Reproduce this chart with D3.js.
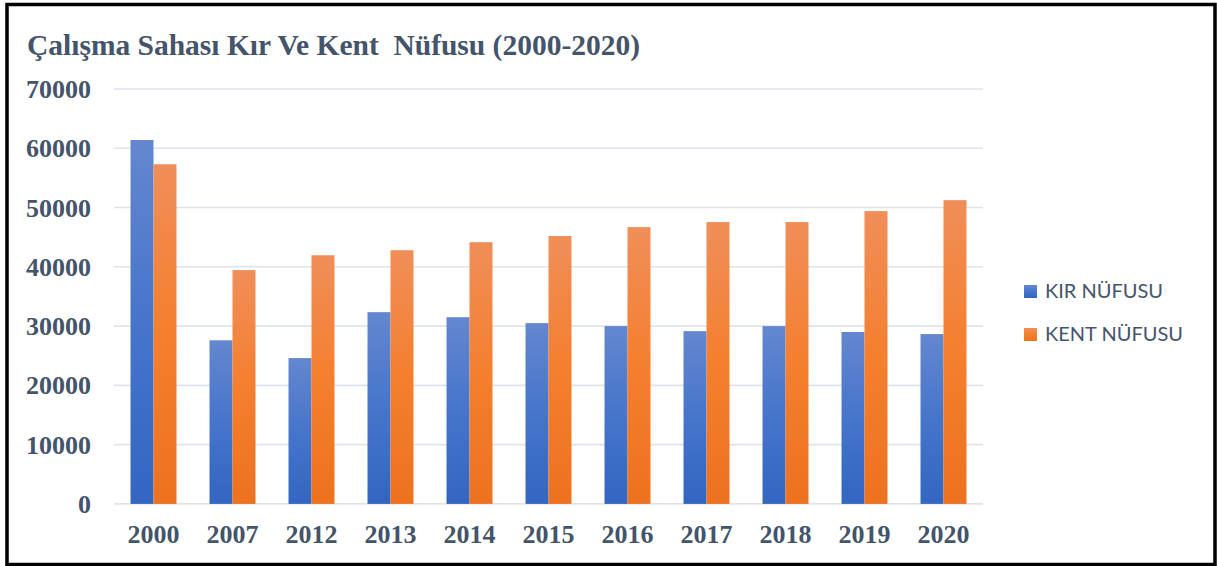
<!DOCTYPE html>
<html>
<head>
<meta charset="utf-8">
<script src="https://cdn.jsdelivr.net/npm/d3@7"></script>
<style>
  body { margin: 0; background: #fff; }
  svg { display: block; }
</style>
</head>
<body>
<script>
'use strict';

// chart data
const years = ['2000', '2007', '2012', '2013', '2014', '2015', '2016', '2017', '2018', '2019', '2020'];
const kirNufusu = [61400, 27600, 24600, 32350, 31500, 30500, 30000, 29150, 30000, 29000, 28650];
const kentNufusu = [57300, 39450, 41950, 42800, 44150, 45200, 46700, 47550, 47550, 49400, 51250];
const seriesNames = ['KIR NÜFUSU', 'KENT NÜFUSU'];
const yTicks = [0, 10000, 20000, 30000, 40000, 50000, 60000, 70000];
const titleText = 'Çalışma Sahası Kır Ve Kent  Nüfusu (2000-2020)';

(function () {
  const width = 1217, height = 566;
  const textColor = '#44546a';

  const svg = d3.select('body').append('svg')
    .attr('width', width)
    .attr('height', height);

  // gradients like the office bar fill
  const defs = svg.append('defs');
  const grads = [
    { id: 'gBlue', stops: ['#6487cf', '#4675cb', '#3266c1'] },
    { id: 'gOrange', stops: ['#f08e59', '#f47f2e', '#ec721f'] }
  ];
  grads.forEach(g => {
    const lg = defs.append('linearGradient')
      .attr('id', g.id)
      .attr('x1', 0).attr('y1', 0).attr('x2', 0).attr('y2', 1);
    g.stops.forEach((c, i) => {
      lg.append('stop').attr('offset', (i / (g.stops.length - 1) * 100) + '%').attr('stop-color', c);
    });
  });
  const fills = ['url(#gBlue)', 'url(#gOrange)'];

  // outer frame
  svg.append('rect')
    .attr('x', 7).attr('y', 4.5)
    .attr('width', 1208).attr('height', 560)
    .attr('fill', '#fff')
    .attr('stroke', '#000')
    .attr('stroke-width', 3.5);

  // scales
  const xScale = d3.scaleBand()
    .domain(years)
    .range([114, 983])
    .paddingInner(0.418)
    .paddingOuter(0.209);

  const xInner = d3.scaleBand()
    .domain([0, 1])
    .range([0, xScale.bandwidth()]);

  const yScale = d3.scaleLinear()
    .domain([0, 70000])
    .range([503.9, 89]);

  // gridlines
  svg.append('g')
    .selectAll('line')
    .data(yTicks)
    .enter()
    .append('line')
    .attr('x1', 114)
    .attr('x2', 983)
    .attr('y1', d => yScale(d))
    .attr('y2', d => yScale(d))
    .attr('stroke', '#dfe3ea')
    .attr('stroke-width', 1.6);

  // y axis labels
  const yAxis = d3.axisLeft(yScale)
    .tickValues(yTicks)
    .tickSize(0)
    .tickPadding(0)
    .tickFormat(d3.format('d'));
  const yG = svg.append('g')
    .attr('transform', 'translate(91, 0)')
    .call(yAxis);
  yG.select('.domain').remove();
  yG.selectAll('text')
    .attr('fill', textColor)
    .attr('dy', '0.33em')
    .style('font-family', '"Liberation Serif", "Times New Roman", serif')
    .style('font-weight', 'bold')
    .style('font-size', '26px');

  // x axis labels
  const xAxis = d3.axisBottom(xScale).tickSize(0).tickPadding(0);
  const xG = svg.append('g')
    .attr('transform', 'translate(0, 543)')
    .call(xAxis);
  xG.select('.domain').remove();
  xG.selectAll('text')
    .attr('fill', textColor)
    .attr('dy', 0)
    .attr('y', 0)
    .style('font-family', '"Liberation Serif", "Times New Roman", serif')
    .style('font-weight', 'bold')
    .style('font-size', '26px');

  // bars
  const rows = years.map((y, i) => ({ year: y, values: [kirNufusu[i], kentNufusu[i]] }));
  const groups = svg.append('g')
    .selectAll('g')
    .data(rows)
    .enter()
    .append('g')
    .attr('transform', d => 'translate(' + xScale(d.year) + ',0)');

  groups.selectAll('rect')
    .data(d => d.values.map((v, k) => ({ k: k, v: v })))
    .enter()
    .append('rect')
    .attr('x', d => xInner(d.k))
    .attr('width', xInner.bandwidth())
    .attr('y', d => yScale(d.v))
    .attr('height', d => yScale(0) - yScale(d.v))
    .attr('fill', d => fills[d.k]);

  // title
  svg.append('text')
    .attr('x', 27)
    .attr('y', 55)
    .attr('fill', textColor)
    .attr('textLength', 613)
    .attr('lengthAdjust', 'spacingAndGlyphs')
    .style('font-family', '"Liberation Serif", "Times New Roman", serif')
    .style('font-weight', 'bold')
    .style('font-size', '29.5px')
    .style('white-space', 'pre')
    .text(titleText);

  // legend
  const legend = svg.append('g')
    .selectAll('g')
    .data(seriesNames)
    .enter()
    .append('g')
    .attr('transform', (d, i) => 'translate(1024,' + (285 + i * 43) + ')');

  legend.append('rect')
    .attr('width', 13)
    .attr('height', 13)
    .attr('fill', (d, i) => fills[i]);

  legend.append('text')
    .attr('x', 21)
    .attr('y', 13)
    .attr('fill', textColor)
    .style('font-family', 'Lato, "Open Sans", sans-serif')
    .style('font-size', '20px')
    .text(d => d);
})();
</script>
</body>
</html>
